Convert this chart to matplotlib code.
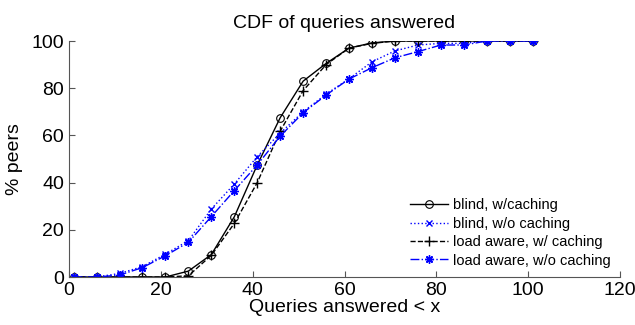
import matplotlib
matplotlib.use("Agg")
import matplotlib.pyplot as plt

plt.rcParams['font.family'] = ['Liberation Sans', 'DejaVu Sans']

x = [1, 6, 11, 16, 21, 26, 31, 36, 41, 46, 51, 56, 61, 66, 71, 76, 81, 86, 91, 96, 101]
blind_cache = [0, 0, 0, 0, 0, 2.5, 9.5, 25.5, 47.5, 67.5, 83, 90.5, 97, 99.2, 100, 100, 100, 100, 100, 100, 100]
blind_nocache = [0, 0, 1.5, 4.4, 9.7, 15.4, 28.8, 39.4, 51, 61, 70, 77.5, 84, 91.2, 95.8, 98.3, 99, 99, 100, 100, 100]
aware_cache = [0, 0, 0, 0, 0, 0.5, 9.2, 22.7, 40, 61.8, 79, 90, 97, 99, 100, 100, 100, 100, 100, 100, 100]
aware_nocache = [0, 0, 0.8, 4, 9, 14.7, 25.6, 36.6, 47.5, 59.7, 69.6, 77.1, 83.9, 88.7, 92.9, 95.5, 98.3, 98.3, 100, 100, 100]

fig = plt.figure(figsize=(6.35, 3.25), dpi=100)
ax = fig.add_axes([69/635, 1 - 277/325, 551/635, 236/325])

ax.plot(x, blind_cache, 'k-o', lw=1, ms=5.5, mfc='none', mew=0.8, label='blind, w/caching')
ax.plot(x, blind_nocache, color='b', ls=':', marker='x', lw=1, ms=4.5, mew=1, label='blind, w/o caching')
ax.plot(x, aware_cache, 'k--+', lw=1, ms=7, mew=1, label='load aware, w/ caching')
ax.plot(x, aware_nocache, color='b', ls='-.', marker=(8, 2, 0), lw=1, ms=6, mew=1, label='load aware, w/o caching')

ax.set_xlim(0, 120)
ax.set_ylim(0, 100)
ax.set_xticks(range(0, 121, 20))
ax.set_yticks(range(0, 101, 20))
for s in ['top', 'right']:
    ax.spines[s].set_visible(False)
for s in ['left', 'bottom']:
    ax.spines[s].set_color('#555555')
ax.tick_params(direction='in', length=4, color='#555555', labelsize=14)
ax.set_title('CDF of queries answered', fontsize=14, pad=9)
ax.set_xlabel('Queries answered < x', fontsize=14, labelpad=0)
ax.set_ylabel('% peers', fontsize=14, labelpad=6)

ax.legend(loc='lower right', frameon=False, fontsize=10.5, handlelength=2.6,
          labelspacing=0.3, handletextpad=0.3, borderaxespad=0.25,
          bbox_to_anchor=(1.0, 0.0))

fig.savefig('out.png', dpi=100)
